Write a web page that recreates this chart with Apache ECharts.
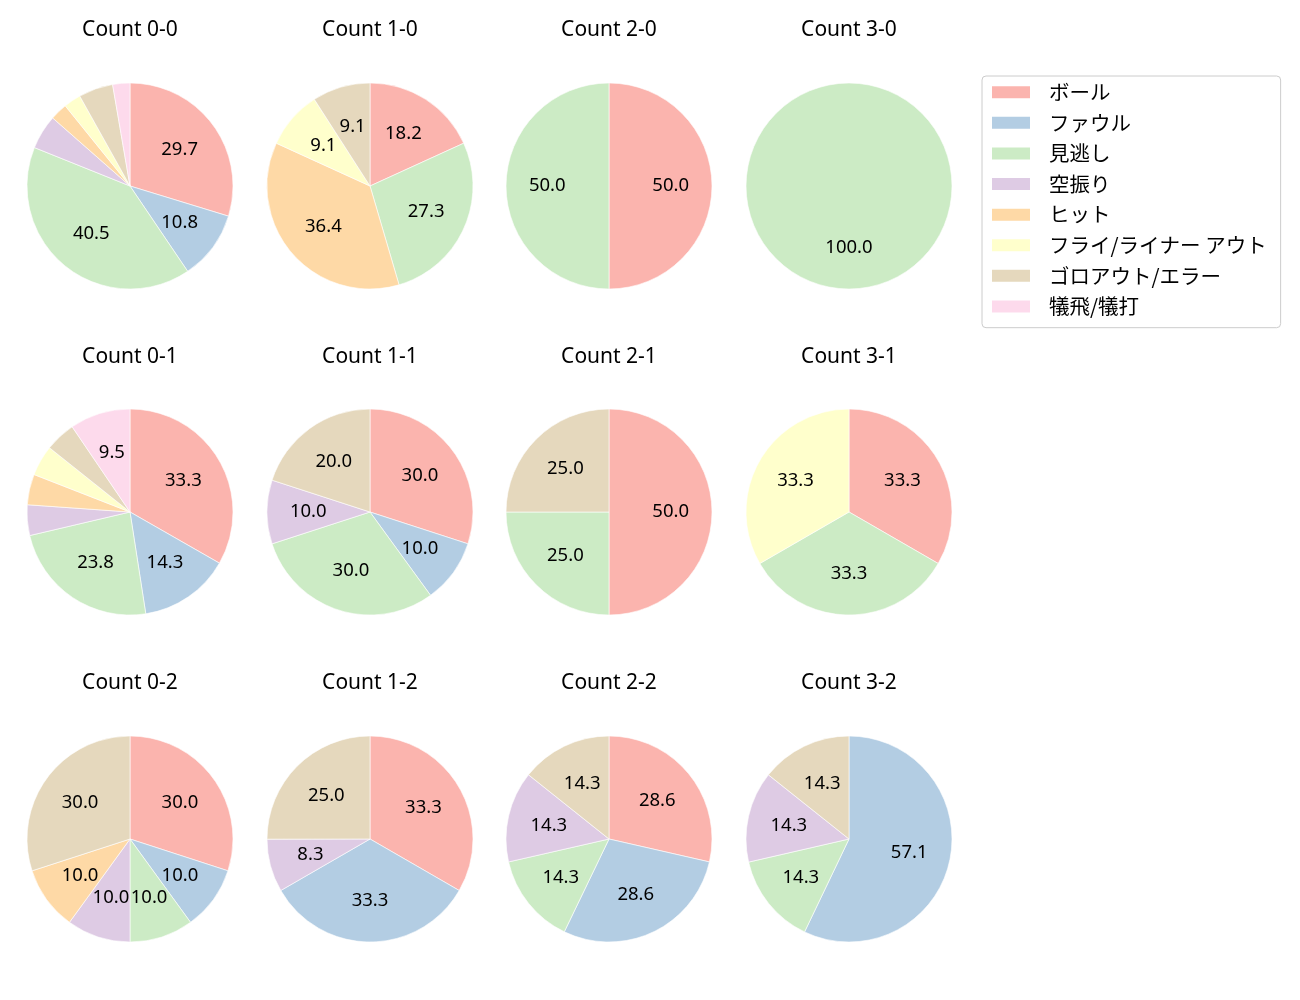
<!DOCTYPE html>
<html>
<head>
<meta charset="utf-8">
<script src="https://cdn.jsdelivr.net/npm/echarts@6/dist/echarts.min.js"></script>
<style>
html,body{margin:0;padding:0;background:#fff;}
#chart{width:1300px;height:1000px;}
</style>
</head>
<body>
<div id="chart"></div>
<script>
const categories = ['ボール','ファウル','見逃し','空振り','ヒット','フライ/ライナー アウト','ゴロアウト/エラー','犠飛/犠打'];
const colors = ['#fbb4ae','#b3cde3','#ccebc5','#decbe4','#fed9a6','#ffffcc','#e5d8bd','#fddaec'];
const countTitles = ['Count 0-0','Count 1-0','Count 2-0','Count 3-0','Count 0-1','Count 1-1','Count 2-1','Count 3-1','Count 0-2','Count 1-2','Count 2-2','Count 3-2'];
const c00 = [29.7,10.8,40.5,5.4,2.7,2.7,5.4,2.7];
const c10 = [18.2,0,27.3,0,36.4,9.1,9.1,0];
const c20 = [50,0,50,0,0,0,0,0];
const c30 = [0,0,100,0,0,0,0,0];
const c01 = [33.3,14.3,23.8,4.8,4.8,4.8,4.8,9.5];
const c11 = [30,10,30,10,0,0,20,0];
const c21 = [50,0,25,0,0,0,25,0];
const c31 = [33.3,0,33.3,0,0,33.3,0,0];
const c02 = [30,10,10,10,10,0,30,0];
const c12 = [33.3,33.3,0,8.3,0,0,25,0];
const c22 = [28.6,28.6,14.3,14.3,0,0,14.3,0];
const c32 = [0,57.1,14.3,14.3,0,0,14.3,0];
const allCounts = [c00,c10,c20,c30,c01,c11,c21,c31,c02,c12,c22,c32];

const FONT = '"Noto Sans", "Noto Sans CJK JP", sans-serif';
const colX = [130, 370, 609, 849];
const rowY = [186, 512, 839];
const titleY = [30, 357, 683];
const R = 103;

const titles = [];
const mainSeries = [];
const labelSeries = [];
allCounts.forEach((vals, i) => {
  const col = i % 4, row = Math.floor(i / 4);
  const cx = colX[col], cy = rowY[row];
  titles.push({
    text: countTitles[i], left: cx, top: titleY[row], textAlign: 'center', textVerticalAlign: 'middle',
    padding: 0,
    textStyle: {fontFamily: FONT, fontSize: 21, fontWeight: 'normal', color: '#000'}
  });
  const items = [];
  vals.forEach((v, k) => { if (v > 0) items.push({name: categories[k], value: v, itemStyle: {color: colors[k]}}); });
  mainSeries.push({
    type: 'pie', center: [cx, cy], radius: [0, R], startAngle: 90, clockwise: true,
    silent: true, animation: false, avoidLabelOverlap: false,
    label: {show: false}, labelLine: {show: false},
    itemStyle: {borderColor: '#ffffff', borderWidth: 0.6},
    emphasis: {disabled: true},
    data: items
  });
  labelSeries.push({
    type: 'pie', center: [cx, cy], radius: [R * 0.14, R], startAngle: 90, clockwise: true,
    silent: true, animation: false, avoidLabelOverlap: false, legendHoverLink: false,
    itemStyle: {color: 'rgba(0,0,0,0)', borderWidth: 0},
    emphasis: {disabled: true},
    label: {
      show: true, position: 'inside', fontFamily: FONT, fontSize: 18.5, color: '#000',
      formatter: p => (p.value >= 7 ? p.value.toFixed(1) : '')
    },
    labelLine: {show: false},
    data: items.map(d => ({name: d.name, value: d.value}))
  });
});

const chart = echarts.init(document.getElementById('chart'), null, {renderer: 'canvas'});
chart.setOption({
  backgroundColor: '#ffffff',
  animation: false,
  title: titles,
  legend: {
    data: categories, orient: 'vertical', left: 982, top: 76,
    itemWidth: 40, itemHeight: 14, itemGap: 10.1, icon: 'rect',
    padding: [6, 14, 11, 8],
    borderColor: '#cccccc', borderWidth: 1, borderRadius: 4,
    textStyle: {fontFamily: '"Noto Sans CJK JP", sans-serif', fontSize: 20.5, color: '#000', lineHeight: 20, padding: [0, 0, 0, 13]},
    selectedMode: false
  },
  series: mainSeries.concat(labelSeries)
});
</script>
</body>
</html>
